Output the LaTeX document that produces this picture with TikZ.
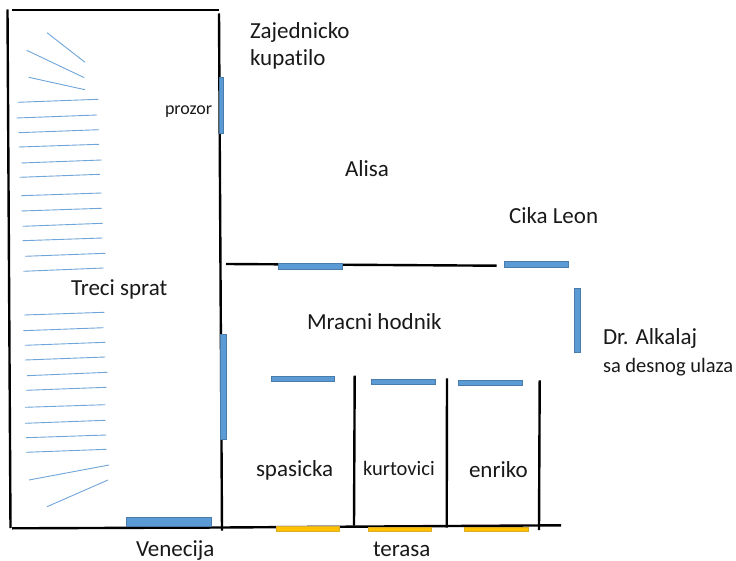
\documentclass[tikz,border=0pt]{standalone}
\usepackage{fontspec}
\setmainfont[Ligatures=NoCommon]{Carlito}
\tikzset{
  wall/.style={draw=black,line width=2.4pt},
  stair/.style={draw=stairblue,line width=0.9pt},
  bluewin/.style={fill=winblue,draw=winblue!80!black,line width=0.3pt},
  yellowwin/.style={fill=winyellow,draw=winyellow!70!gray,line width=0.4pt},
  lab/.style={anchor=base west,inner sep=0pt,outer sep=0pt,text=black!90,font=\fontsize{23}{26}\selectfont},
  labsmall/.style={lab,font=\fontsize{20.5}{24}\selectfont}
}
\definecolor{stairblue}{HTML}{6FA5D8}
\definecolor{winblue}{HTML}{5B9BD5}
\definecolor{winyellow}{HTML}{FFC000}
\begin{document}
\begin{tikzpicture}[x=1pt,y=-1pt]
\useasboundingbox (0,0) rectangle (736,561);
% walls
\draw[wall] (7.5,9.5) -- (10.5,528);
\draw[wall] (11.5,10) -- (219,10);
\draw[wall] (219,13.5) -- (222,530.7);
\draw[wall] (12,528.3) -- (222,527.5) -- (561,525.3);
\draw[wall] (226,264) -- (496.7,265.7);
\draw[wall] (354.7,375.7) -- (354,525.7);
\draw[wall] (447,378.3) -- (446.7,527.7);
\draw[wall] (539.7,380.3) -- (539,530);
% stairs
\foreach \xa/\ya/\xb/\yb in {
 47/32.7/85/62.3, 26.7/50.3/84.3/77.7, 28.7/77.3/85/89.7,
 17.7/102.3/98.3/99.3, 16.7/118/97/115, 18.7/132.7/99/129.7, 18.7/147/99/144.3,
 21.3/163/101.7/160, 19.7/177.3/100/174.3, 21.3/195.7/101.7/193, 21.3/211/101.7/208.3,
 22.7/226.3/102.7/223.3, 22.7/240.7/102.7/238, 25/256.3/105.3/253.3, 23.3/271.3/103.7/268,
 24.3/315/104.3/312.3, 23.3/330.7/103.7/327.7, 25/345.3/105.3/342.3, 25/360/105.3/357,
 27/375.7/107.3/372.3, 26/390.3/106.3/387.3, 25/407.3/105.3/404.7, 25/423.3/105.3/420.3,
 26/437.7/106.3/435, 26/452.3/106.3/449.3, 29/480/109/465, 47/506.7/108/480}
  \draw[stair] (\xa,\ya) -- (\xb,\yb);
% blue windows
\draw[bluewin] (218.7,77.3) rectangle (223.3,132.7);
\draw[bluewin] (220.3,334) rectangle (225.7,438.7);
\draw[bluewin] (126.3,517) rectangle (211.3,526);
\draw[bluewin] (278.3,263.3) rectangle (342.3,268.7);
\draw[bluewin] (504,261.3) rectangle (567.7,266.7);
\draw[bluewin] (574.3,288.3) rectangle (579.7,351.7);
\draw[bluewin] (271,376) rectangle (334,381.3);
\draw[bluewin] (371,379) rectangle (435,384);
\draw[bluewin] (458,379.7) rectangle (522,385);
% yellow windows
\draw[yellowwin] (276,525.7) rectangle (339.3,530.7);
\draw[yellowwin] (368.3,526.7) rectangle (431,531.3);
\draw[yellowwin] (464.3,526.7) rectangle (528,531.3);
% labels
\node[lab] (zaj) at (250,39) {Zajednicko};
\node[lab] (kup) at (250,66) {kupatilo};
\node[lab,font=\fontsize{18}{21}\selectfont] (proz) at (165,115) {prozor};
\node[lab] (alisa) at (345,177) {Alisa};
\node[lab] (leon) at (509,223.5) {Cika Leon};
\node[lab] (treci) at (71,295) {Treci sprat};
\node[lab] (mracni) at (307,329) {Mracni hodnik};
\node[lab] (alk) at (603,344) {Dr. Alkalaj};
\node[labsmall] (ulaz) at (603,372) {sa desnog ulaza};
\node[lab] (spas) at (256,476) {spasicka};
\node[labsmall] (kurt) at (363,475) {kurtovici};
\node[lab] (enr) at (469,477) {enriko};
\node[lab] (ven) at (136,556) {Venecija};
\node[lab] (ter) at (373,556) {terasa};
\end{tikzpicture}
\end{document}
